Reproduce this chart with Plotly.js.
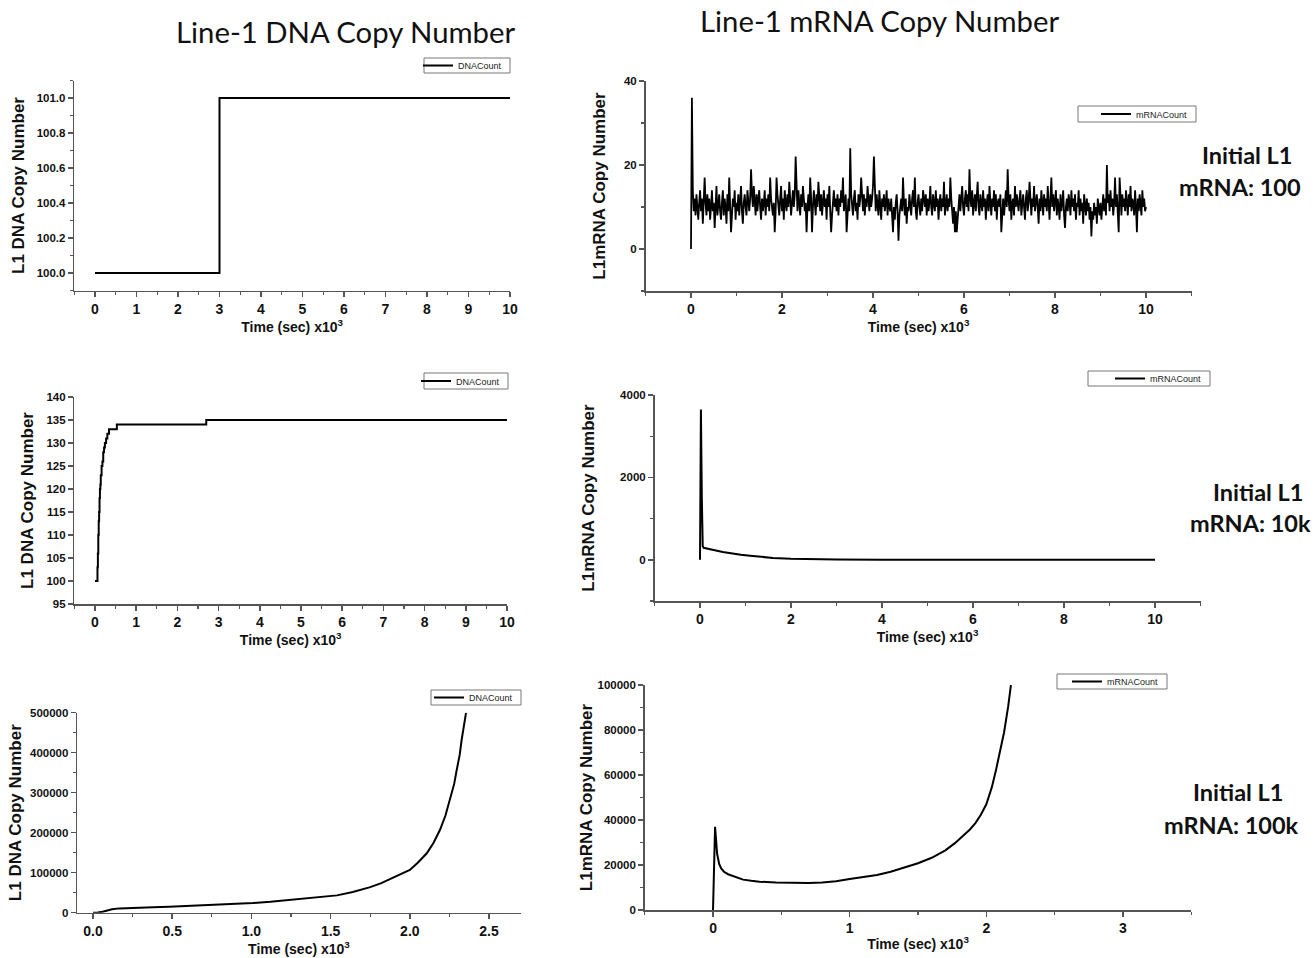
<!DOCTYPE html>
<html><head><meta charset="utf-8">
<script src="https://cdn.plot.ly/plotly-3.0.1.min.js"></script>
<style>html,body{margin:0;padding:0;background:#fff}</style>
</head><body><div id="chart" style="width:1315px;height:958px"></div>
<script>
// ---------- DATA ----------
// Row 1: initial L1 mRNA 100
const dnaA_t = [0, 3, 10];
const dnaA_y = [100, 101, 101];
const mrnaA_x0 = 0, mrnaA_dx = 0.02;
const mrnaA_y = [
 0,36,14,9,12,8,13,10,7,11,14,9,12,6,10,17,11,8,13,9,
 12,7,10,14,9,11,5,12,15,8,10,13,9,7,11,14,8,12,10,6,
 13,9,17,11,4,8,12,10,14,7,11,9,13,8,12,15,9,6,11,13,
 10,8,14,11,9,12,19,13,10,15,11,8,13,9,12,14,10,7,12,9,
 11,14,8,12,10,13,9,17,12,10,8,11,4,9,17,13,10,8,12,15,
 9,12,7,14,11,9,13,10,16,12,8,11,14,10,13,22,12,9,14,11,
 8,13,10,15,12,9,11,4,10,13,9,17,12,4,10,14,11,8,13,10,
 16,12,9,13,8,11,14,10,12,7,13,10,15,9,4,8,11,14,10,12,
 9,13,8,12,10,14,11,17,9,12,13,4,10,12,9,24,13,10,8,12,
 14,9,11,7,13,10,12,17,11,9,13,8,12,10,15,11,9,13,10,12,
 15,22,11,9,13,10,8,14,11,7,12,10,13,9,11,14,8,12,10,9,
 12,8,4,10,7,11,13,9,2,8,10,12,9,17,11,8,12,6,10,9,
 13,11,8,12,14,10,17,9,7,11,13,10,8,12,9,14,11,10,13,8,
 12,9,11,15,10,8,13,11,9,14,10,12,7,11,13,9,12,10,16,8,
 11,13,9,12,10,17,12,8,6,10,4,9,4,7,11,13,9,12,15,10,
 8,12,14,10,13,9,19,12,10,14,8,11,13,9,12,16,10,8,13,11,
 9,14,10,12,7,11,13,9,15,11,8,12,10,14,9,13,7,11,12,10,
 13,4,9,12,8,11,14,10,19,12,9,13,7,11,12,8,15,10,13,11,
 9,12,14,8,11,13,10,7,12,14,9,11,16,13,8,12,10,15,9,11,
 13,10,6,12,9,14,11,8,13,10,12,9,15,11,7,12,17,10,13,9,
 11,14,8,12,10,7,13,9,11,14,8,5,10,12,9,13,11,8,14,10,
 12,9,13,7,11,10,14,8,12,9,11,6,13,10,8,12,9,11,7,10,
 3,9,7,11,8,10,6,12,9,8,11,7,10,13,9,12,8,20,11,13,
 9,14,10,12,8,11,17,10,13,9,4,17,11,8,13,10,12,9,14,11,
 8,13,10,15,9,12,11,8,14,10,4,12,9,13,11,8,14,10,12,9,
 10];

// Row 2: initial L1 mRNA 10k
const dnaB_t = [0, 0.06, 0.07, 0.08, 0.09, 0.10, 0.11, 0.12, 0.13, 0.14, 0.16, 0.18, 0.20, 0.22, 0.24, 0.27, 0.30, 0.34, 0.53, 2.70, 10];
const dnaB_y = [100, 103, 106, 110, 113, 115, 118, 120, 121, 123, 125, 126, 128, 129, 130, 131, 132, 133, 134, 135, 135];
const mrnaB_t = [0, 0.02, 0.04, 0.06, 0.08, 0.15, 0.3, 0.5, 0.7, 0.9, 1.1, 1.3, 1.6, 2.0, 2.5, 3.0, 4.0, 6.0, 8.0, 10.0];
const mrnaB_y = [0, 3650, 1500, 330, 290, 270, 240, 190, 150, 125, 100, 75, 45, 25, 12, 6, 3, 2, 2, 2];

// Row 3: initial L1 mRNA 100k
const dnaC_t = [0, 0.03, 0.06, 0.09, 0.12, 0.165, 0.22, 0.27, 0.38, 0.48, 0.6, 0.69, 0.85, 1.01, 1.12, 1.22, 1.33, 1.43, 1.54, 1.64, 1.7, 1.75, 1.82, 1.9, 1.96, 2.0, 2.05, 2.107, 2.15, 2.19, 2.225, 2.254, 2.28, 2.296, 2.315, 2.327, 2.342, 2.355];
const dnaC_y = [0, 300, 2500, 6000, 8800, 10800, 11900, 12500, 13800, 15000, 16700, 18300, 21000, 24200, 27300, 30800, 35000, 39200, 43300, 51700, 58000, 64000, 74000, 88000, 100000, 107000, 125000, 148500, 175000, 206750, 243000, 281750, 322000, 356750, 395000, 431750, 465000, 500000];
const mrnaC_t = [0, 0.015, 0.03, 0.045, 0.06, 0.08, 0.11, 0.14, 0.18, 0.22, 0.28, 0.34, 0.46, 0.6, 0.7, 0.8, 0.9, 1.0, 1.1, 1.2, 1.3, 1.4, 1.5, 1.6, 1.7, 1.77, 1.83, 1.88, 1.92, 1.96, 2.0, 2.04, 2.07, 2.1, 2.13, 2.16, 2.18];
const mrnaC_y = [0, 37000, 25000, 20500, 18500, 17000, 15900, 15200, 14200, 13500, 13000, 12600, 12200, 11900, 11950, 12200, 12800, 13800, 14600, 15600, 17000, 18800, 20800, 23200, 26500, 29700, 32800, 35800, 38600, 42300, 47000, 54500, 62000, 70500, 79000, 90500, 100000];

const dnaName = 'DNACount', mrnaName = 'mRNACount';
const colTitles = ['Line-1 DNA Copy Number', 'Line-1 mRNA Copy Number'];
const rowLabels = [['Initial L1', 'mRNA: 100'], ['Initial L1', 'mRNA: 10k'], ['Initial L1', 'mRNA: 100k']];
const xTitle = 'Time (sec) x10<sup>3</sup>';
const yTitleDNA = 'L1 DNA Copy Number', yTitleRNA = 'L1mRNA Copy Number';

// ---------- LAYOUT ----------
const W = 1315, H = 958;
const AF = 'Liberation Sans, Arial, sans-serif';
const AX = '#555';
function xd(a, b) { return [a / W, b / W]; }
function yd(top, bot) { return [1 - bot / H, 1 - top / H]; }

function xa(dom, anchor, range, dtick, mdt, standoff) {
  return {domain: dom, anchor: anchor, range: range, dtick: dtick, tick0: 0,
    showline: true, linecolor: AX, linewidth: 1.5, ticks: 'outside', ticklen: 5, tickwidth: 1.5, tickcolor: AX,
    minor: {dtick: mdt, ticks: 'outside', ticklen: 3, tickwidth: 1.2, tickcolor: AX, showgrid: false},
    showgrid: false, zeroline: false,
    tickfont: {family: AF, size: 14, weight: 'bold', color: '#111'},
    title: {text: xTitle, font: {family: AF, size: 14, weight: 'bold', color: '#111'}, standoff: standoff}};
}
function ya(dom, anchor, range, dtick, mdt, fmt, title, standoff) {
  return {domain: dom, anchor: anchor, range: range, dtick: dtick, tick0: 0, tickformat: fmt,
    showline: true, linecolor: AX, linewidth: 1.5, ticks: 'outside', ticklen: 5, tickwidth: 1.5, tickcolor: AX,
    minor: mdt ? {dtick: mdt, ticks: 'outside', ticklen: 3, tickwidth: 1.2, tickcolor: AX, showgrid: false} : undefined,
    showgrid: false, zeroline: false,
    tickfont: {family: AF, size: 11.5, weight: 'bold', color: '#111'},
    title: {text: title, font: {family: AF, size: 17, weight: 'bold', color: '#111'}, standoff: standoff}};
}
// legend boxes [left, top, right, bottom] in page pixels
const legBoxes = [[424, 58, 510, 73], [1078, 106, 1196, 122], [424, 373, 508, 389], [1088, 371, 1210, 386], [431, 690, 521, 705], [1057, 674, 1167, 689]];
function leg(b) {
  return {x: (b[2] - 3) / W, y: 1 - ((b[1] + b[3]) / 2) / H, xanchor: 'right', yanchor: 'middle', bgcolor: 'rgba(255,255,255,0)',
    borderwidth: 0, font: {family: AF, size: 9, color: '#222'}, itemwidth: 30, tracegroupgap: 0};
}
const shapes = legBoxes.map(b => ({type: 'rect', xref: 'paper', yref: 'paper', x0: b[0] / W, x1: b[2] / W, y0: 1 - b[3] / H, y1: 1 - b[1] / H,
  line: {color: '#777', width: 1}, fillcolor: 'rgba(0,0,0,0)', layer: 'above'}));

const line = {color: '#000', width: 2};
const traces = [
  {x: dnaA_t, y: dnaA_y, xaxis: 'x', yaxis: 'y', type: 'scatter', mode: 'lines', line: Object.assign({shape: 'hv'}, line), name: dnaName, legend: 'legend'},
  {x0: mrnaA_x0, dx: mrnaA_dx, y: mrnaA_y, xaxis: 'x2', yaxis: 'y2', type: 'scatter', mode: 'lines', line: {color: '#000', width: 1.8}, name: mrnaName, legend: 'legend2'},
  {x: dnaB_t, y: dnaB_y, xaxis: 'x3', yaxis: 'y3', type: 'scatter', mode: 'lines', line: Object.assign({shape: 'hv'}, line), name: dnaName, legend: 'legend3'},
  {x: mrnaB_t, y: mrnaB_y, xaxis: 'x4', yaxis: 'y4', type: 'scatter', mode: 'lines', line: line, name: mrnaName, legend: 'legend4'},
  {x: dnaC_t, y: dnaC_y, xaxis: 'x5', yaxis: 'y5', type: 'scatter', mode: 'lines', line: line, name: dnaName, legend: 'legend5'},
  {x: mrnaC_t, y: mrnaC_y, xaxis: 'x6', yaxis: 'y6', type: 'scatter', mode: 'lines', line: line, name: mrnaName, legend: 'legend6'}
];
traces.forEach(t => { t.showlegend = true; t.hoverinfo = 'skip'; t.cliponaxis = false; });

const ann = [];
function txt(text, x, y, size, bold, family) {
  ann.push({text: text, x: x / W, y: 1 - y / H, xref: 'paper', yref: 'paper', xanchor: 'center', yanchor: 'middle',
    showarrow: false, font: {family: family, size: size, weight: bold ? 'bold' : 'normal', color: '#111'}});
}
const TF = 'Lato, Open Sans, sans-serif';
txt(colTitles[0], 345, 32, 29.3, false, TF);
txt(colTitles[1], 880, 20, 29.3, false, TF);
const rowPos = [[1247, 155, 1240, 187], [1258, 492, 1250, 523], [1238, 792, 1231, 825]];
rowLabels.forEach((r, i) => {
  txt(r[0], rowPos[i][0], rowPos[i][1], 23.5, true, TF);
  txt(r[1], rowPos[i][2], rowPos[i][3], 23.5, true, TF);
});

const layout = {
  width: W, height: H, margin: {l: 0, r: 0, t: 0, b: 0}, paper_bgcolor: '#fff', plot_bgcolor: 'rgba(0,0,0,0)',
  showlegend: true, annotations: ann, shapes: shapes,
  xaxis:  xa(xd(74.25, 510), 'y',  [-0.5, 10], 1, 0.5, 4),
  yaxis:  ya(yd(80.5, 290.5), 'x', [99.9, 101.1], 0.2, 0.1, '.1f', yTitleDNA, 7),
  xaxis2: xa(xd(645.5, 1191.5), 'y2', [-1, 11], 2, 1, 4),
  yaxis2: ya(yd(81, 291), 'x2', [-10, 40], 20, 10, 'd', yTitleRNA, 14),
  xaxis3: xa(xd(74.4, 507), 'y3', [-0.5, 10], 1, 0.5, 2),
  yaxis3: ya(yd(397, 604), 'x3', [95, 140], 5, null, 'd', yTitleDNA, 8),
  xaxis4: xa(xd(654.5, 1200.5), 'y4', [-1, 11], 2, 1, 4),
  yaxis4: ya(yd(395, 601), 'x4', [-1000, 4000], 2000, 1000, 'd', yTitleRNA, 21),
  xaxis5: xa(xd(77.2, 520.7), 'y5', [-0.1, 2.7], 0.5, 0.25, 0),
  yaxis5: ya(yd(712.7, 912.7), 'x5', [0, 500000], 100000, 50000, 'd', yTitleDNA, 4),
  xaxis6: xa(xd(644.7, 1191.3), 'y6', [-0.5, 3.5], 1, 0.5, 4),
  yaxis6: ya(yd(685, 910), 'x6', [0, 100000], 20000, 10000, 'd', yTitleRNA, 0),
  legend:  leg(legBoxes[0]),
  legend2: leg(legBoxes[1]),
  legend3: leg(legBoxes[2]),
  legend4: leg(legBoxes[3]),
  legend5: leg(legBoxes[4]),
  legend6: leg(legBoxes[5])
};
layout.xaxis5.tickformat = '.1f';

Plotly.newPlot('chart', traces, layout, {displayModeBar: false, staticPlot: true});
</script></body></html>
